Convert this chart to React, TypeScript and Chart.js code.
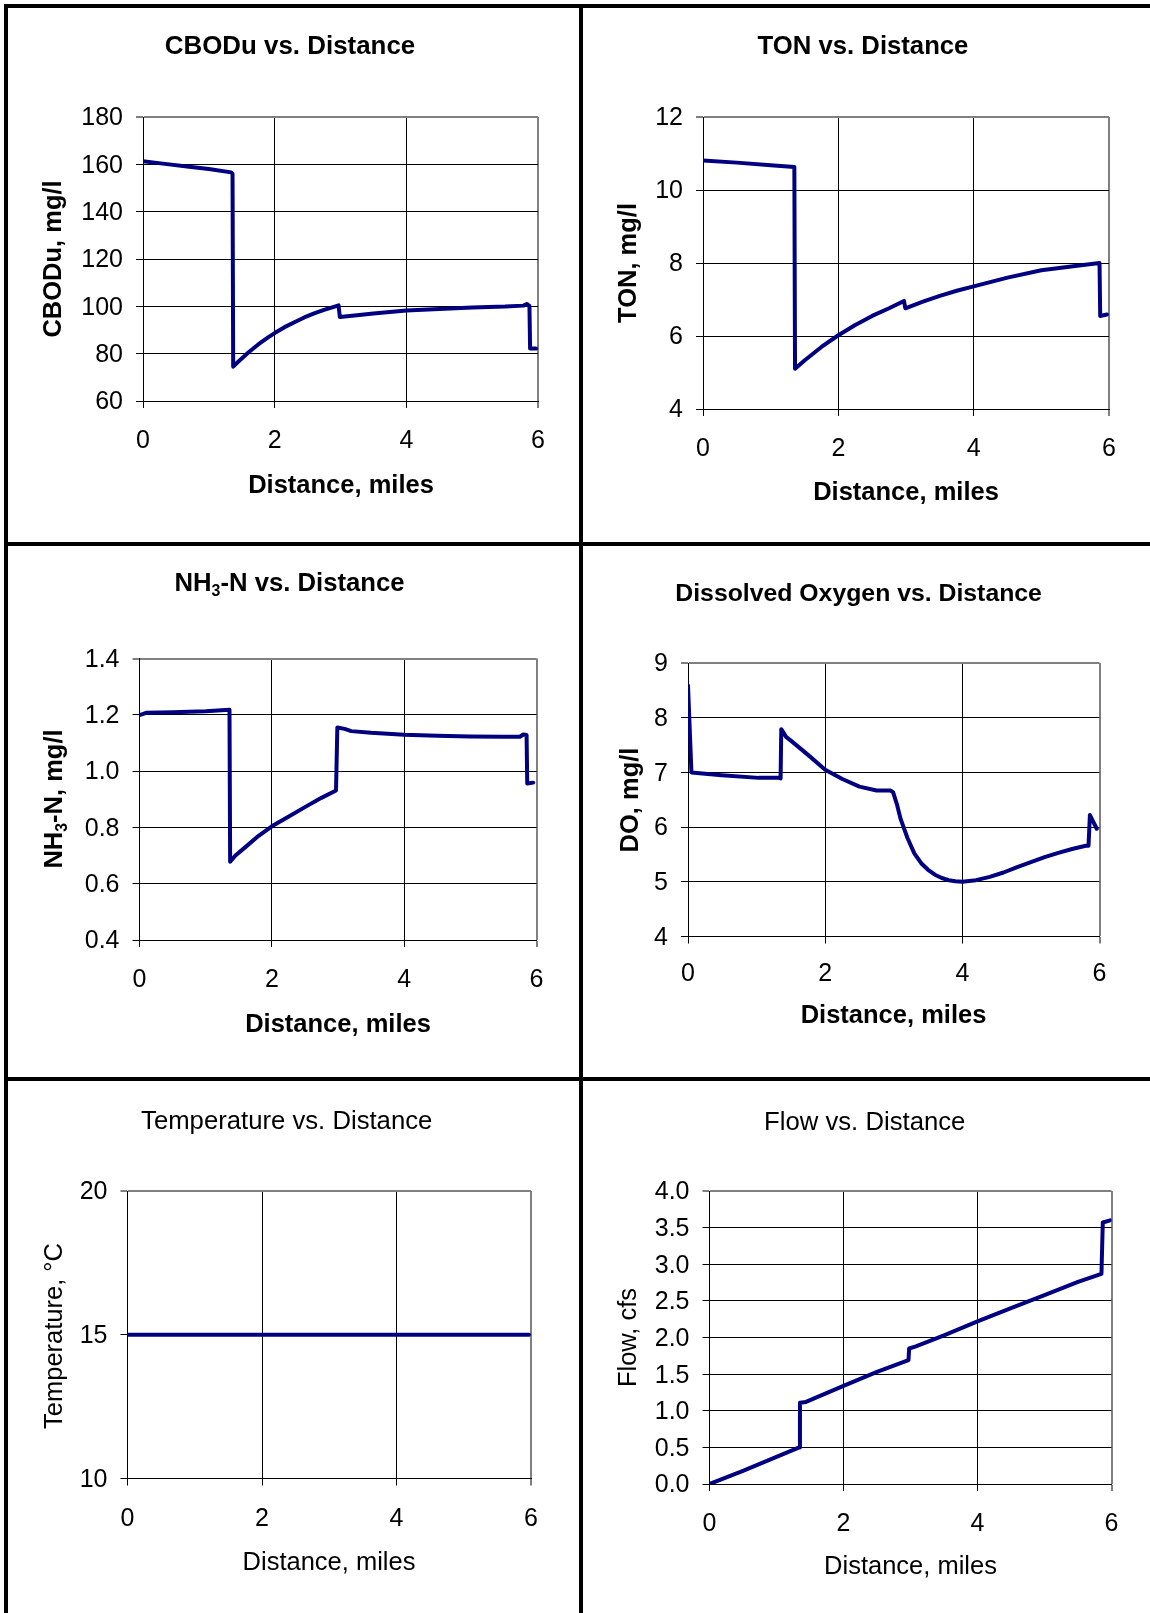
import React, { useEffect, useRef } from "react";
import { Chart, registerables } from "chart.js";

Chart.register(...registerables);

// ---------- data ----------
const xTicks = [0, 2, 4, 6];

const cbodDist = [0, 0.3, 0.7, 1.0, 1.34, 1.36, 1.37, 1.45, 1.6, 1.75, 1.9, 2.0, 2.15, 2.3, 2.45, 2.6, 2.75, 2.9, 2.97, 2.99, 3.25, 3.5, 4.0, 4.5, 5.0, 5.5, 5.78, 5.83, 5.87, 5.88, 5.97];
const cbodVal = [161.3, 160.3, 159.0, 158.0, 156.6, 156.0, 74.5, 76.7, 80.5, 83.9, 86.9, 88.7, 91.2, 93.3, 95.3, 97.0, 98.5, 99.8, 100.4, 95.5, 96.2, 97.0, 98.2, 98.9, 99.5, 99.9, 100.3, 101.0, 100.2, 82.2, 82.2];

const tonDist = [0, 0.5, 1.0, 1.35, 1.36, 1.5, 1.75, 2.0, 2.25, 2.5, 2.75, 2.97, 2.99, 3.25, 3.5, 3.75, 4.0, 4.5, 5.0, 5.5, 5.86, 5.87, 5.97];
const tonVal = [10.81, 10.75, 10.68, 10.63, 5.1, 5.33, 5.7, 6.02, 6.3, 6.55, 6.76, 6.96, 6.76, 6.94, 7.1, 7.24, 7.36, 7.6, 7.8, 7.92, 8.0, 6.55, 6.59];

const nh3Dist = [0, 0.1, 0.5, 1.0, 1.36, 1.37, 1.45, 1.6, 1.8, 2.0, 2.25, 2.5, 2.75, 2.97, 2.99, 3.1, 3.2, 3.5, 4.0, 4.5, 5.0, 5.5, 5.75, 5.8, 5.85, 5.86, 5.95];
const nh3Val = [1.199, 1.207, 1.209, 1.213, 1.218, 0.678, 0.7, 0.73, 0.77, 0.804, 0.838, 0.872, 0.905, 0.931, 1.155, 1.15, 1.142, 1.136, 1.129, 1.126, 1.123, 1.122, 1.122, 1.13, 1.128, 0.956, 0.959];

const doDist = [0, 0.05, 0.49, 1.03, 1.32, 1.35, 1.36, 1.43, 1.5, 1.75, 2.0, 2.25, 2.5, 2.75, 2.95, 2.99, 3.05, 3.1, 3.2, 3.3, 3.4, 3.5, 3.6, 3.7, 3.8, 3.9, 4.0, 4.2, 4.4, 4.6, 4.8, 5.0, 5.2, 5.4, 5.6, 5.8, 5.84, 5.86, 5.96];
const doVal = [8.59, 7.0, 6.95, 6.9, 6.9, 6.89, 7.79, 7.65, 7.58, 7.32, 7.05, 6.88, 6.74, 6.67, 6.67, 6.64, 6.4, 6.15, 5.8, 5.52, 5.34, 5.22, 5.13, 5.07, 5.03, 5.01, 5.0, 5.03, 5.09, 5.17, 5.27, 5.36, 5.45, 5.53, 5.6, 5.66, 5.66, 6.22, 5.97];

const tempDist = [0, 1.36, 2.98, 5.87, 5.97];
const tempVal = [15, 15, 15, 15, 15];

const flowDist = [0, 0.5, 1.0, 1.34, 1.35, 1.44, 2.0, 2.5, 2.97, 2.98, 3.08, 3.5, 4.0, 4.5, 5.0, 5.5, 5.85, 5.87, 5.98];
const flowVal = [0.0, 0.18, 0.37, 0.5, 1.11, 1.12, 1.34, 1.53, 1.69, 1.85, 1.88, 2.03, 2.22, 2.4, 2.58, 2.76, 2.87, 3.57, 3.6];

// ---------- layout ----------
const FAMILY = "'Liberation Sans', Arial, sans-serif";
const LINE = "#000080";
const WY = 80;
const HX = 58;

type Seg = { t: string; sub?: boolean };

type Panel = {
  cell: [number, number, number, number];
  plot: [number, number, number, number];
  dist: number[];
  vals: number[];
  ymin: number;
  ymax: number;
  ystep: number;
  decimals: number;
  bold: boolean;
  title: Seg[];
  titleX: number;
  titleY: number;
  titleSize: number;
  yTitle: Seg[];
  yTitleX: number;
  yTitleY: number;
  xTitle: Seg[];
  xTitleX: number;
  xTitleY: number;
  xPad: number;
};

const XT: Seg[] = [{ t: "Distance, miles" }];

const panels: Panel[] = [
  {
    cell: [8, 8, 571, 534], plot: [143, 117, 538, 401],
    dist: cbodDist, vals: cbodVal, ymin: 60, ymax: 180, ystep: 20, decimals: 0, bold: true,
    title: [{ t: "CBODu vs. Distance" }], titleX: 290, titleY: 54, titleSize: 25.9,
    yTitle: [{ t: "CBODu, mg/l" }], yTitleX: 61, yTitleY: 259,
    xTitle: XT, xTitleX: 341, xTitleY: 492.5, xPad: 18.5,
  },
  {
    cell: [583, 8, 567, 534], plot: [703, 117, 1109, 409],
    dist: tonDist, vals: tonVal, ymin: 4, ymax: 12, ystep: 2, decimals: 0, bold: true,
    title: [{ t: "TON vs. Distance" }], titleX: 863, titleY: 54, titleSize: 25.7,
    yTitle: [{ t: "TON, mg/l" }], yTitleX: 635.5, yTitleY: 263,
    xTitle: XT, xTitleX: 906, xTitleY: 499.5, xPad: 18.5,
  },
  {
    cell: [8, 546, 571, 531], plot: [139.5, 658.5, 536.5, 940],
    dist: nh3Dist, vals: nh3Val, ymin: 0.4, ymax: 1.4, ystep: 0.2, decimals: 1, bold: true,
    title: [{ t: "NH" }, { t: "3", sub: true }, { t: "-N vs. Distance" }], titleX: 289.5, titleY: 591, titleSize: 25.7,
    yTitle: [{ t: "NH" }, { t: "3", sub: true }, { t: "-N, mg/l" }], yTitleX: 62, yTitleY: 799,
    xTitle: XT, xTitleX: 338, xTitleY: 1031.5, xPad: 18.5,
  },
  {
    cell: [583, 546, 567, 531], plot: [688, 663, 1099.5, 936.5],
    dist: doDist, vals: doVal, ymin: 4, ymax: 9, ystep: 1, decimals: 0, bold: true,
    title: [{ t: "Dissolved Oxygen vs. Distance" }], titleX: 858.6, titleY: 601, titleSize: 24.8,
    yTitle: [{ t: "DO, mg/l" }], yTitleX: 638, yTitleY: 800,
    xTitle: XT, xTitleX: 893.5, xTitleY: 1023, xPad: 15.5,
  },
  {
    cell: [8, 1081, 571, 532], plot: [127.5, 1191, 531, 1478.5],
    dist: tempDist, vals: tempVal, ymin: 10, ymax: 20, ystep: 5, decimals: 0, bold: false,
    title: [{ t: "Temperature vs. Distance" }], titleX: 286.7, titleY: 1129, titleSize: 25.7,
    yTitle: [{ t: "Temperature, °C" }], yTitleX: 62, yTitleY: 1336,
    xTitle: XT, xTitleX: 329, xTitleY: 1569.5, xPad: 18.5,
  },
  {
    cell: [583, 1081, 567, 532], plot: [709.5, 1191, 1111.5, 1484],
    dist: flowDist, vals: flowVal, ymin: 0, ymax: 4, ystep: 0.5, decimals: 1, bold: false,
    title: [{ t: "Flow vs. Distance" }], titleX: 864.7, titleY: 1129.6, titleSize: 25.7,
    yTitle: [{ t: "Flow, cfs" }], yTitleX: 635.5, yTitleY: 1337.5,
    xTitle: XT, xTitleX: 910.5, xTitleY: 1573.5, xPad: 18.5,
  },
];

function drawRich(ctx: CanvasRenderingContext2D, segs: Seg[], x: number, y: number, size: number, bold: boolean) {
  const w = bold ? "bold " : "";
  const fMain = `${w}${size}px ${FAMILY}`;
  const fSub = `${w}${(size * 0.62).toFixed(2)}px ${FAMILY}`;
  let total = 0;
  const widths = segs.map((s) => {
    ctx.font = s.sub ? fSub : fMain;
    const m = ctx.measureText(s.t).width;
    total += m;
    return m;
  });
  let cx = x - total / 2;
  ctx.textAlign = "left";
  ctx.textBaseline = "alphabetic";
  segs.forEach((s, i) => {
    ctx.font = s.sub ? fSub : fMain;
    ctx.fillText(s.t, cx, s.sub ? y + size * 0.2 : y);
    cx += widths[i];
  });
}

function PanelChart({ p }: { p: Panel }) {
  const ref = useRef<HTMLCanvasElement | null>(null);
  useEffect(() => {
    if (!ref.current) return;
    const [cx, cy, cw, ch] = p.cell;
    const [pl, pt, pr, pb] = p.plot;
    const near = (a: number, b: number) => Math.abs(a - b) < 1e-9;
    const textPlugin = {
      id: "panelText",
      afterDraw(chart: any) {
        const ctx: CanvasRenderingContext2D = chart.ctx;
        ctx.save();
        ctx.fillStyle = "#000";
        drawRich(ctx, p.title, p.titleX - cx, p.titleY - cy, p.titleSize, p.bold);
        drawRich(ctx, p.xTitle, p.xTitleX - cx, p.xTitleY - cy, 25.5, p.bold);
        ctx.translate(p.yTitleX - cx, p.yTitleY - cy);
        ctx.rotate(-Math.PI / 2);
        drawRich(ctx, p.yTitle, 0, 0, 25.5, p.bold);
        ctx.restore();
      },
    };
    const xFont = { family: FAMILY, size: 25, weight: "normal" as const };
    // two-line label with a tiny line height nudges the y labels down by 1.5px
    const yFont = { family: FAMILY, size: 25, weight: "normal" as const, lineHeight: "3px" };
    const chart = new Chart(ref.current, {
      type: "scatter",
      data: {
        datasets: [
          {
            data: p.dist.map((x, i) => ({ x, y: p.vals[i] })),
            showLine: true,
            borderColor: LINE,
            backgroundColor: LINE,
            borderWidth: 4,
            pointRadius: 0,
            pointHoverRadius: 0,
            fill: false,
            tension: 0,
            borderJoinStyle: "round",
            borderCapStyle: "round",
          } as any,
        ],
      },
      options: {
        animation: false,
        responsive: false,
        devicePixelRatio: 1,
        events: [],
        layout: {
          autoPadding: false,
          padding: {
            left: pl - cx - WY,
            top: pt - cy,
            right: cx + cw - pr,
            bottom: cy + ch - pb - HX,
          },
        },
        plugins: {
          legend: { display: false },
          tooltip: { enabled: false },
          title: { display: false },
        },
        scales: {
          x: {
            type: "linear",
            position: "bottom",
            min: 0,
            max: 6,
            afterBuildTicks: (s: any) => {
              s.ticks = xTicks.map((v) => ({ value: v }));
            },
            ticks: { font: xFont, color: "#000", padding: p.xPad, maxRotation: 0, callback: (v: any) => String(v) },
            grid: {
              color: (c: any) => (c.tick && near(c.tick.value, 6) ? "#808080" : "#000"),
              lineWidth: (c: any) => (c.tick && near(c.tick.value, 6) ? 2 : 1),
              tickLength: 7,
              tickColor: "#000",
              tickWidth: 1,
            },
            border: { display: true, color: "#000", width: 1 },
            afterFit: (s: any) => {
              s.height = HX;
            },
          },
          y: {
            type: "linear",
            position: "left",
            min: p.ymin,
            max: p.ymax,
            ticks: {
              stepSize: p.ystep,
              font: yFont,
              color: "#000",
              padding: 13,
              callback: (v: any) => ["", Number(v).toFixed(p.decimals)],
            },
            grid: {
              color: (c: any) => (c.tick && near(c.tick.value, p.ymax) ? "#808080" : "#000"),
              lineWidth: (c: any) => (c.tick && near(c.tick.value, p.ymax) ? 2 : 1),
              tickLength: 7,
              tickColor: "#000",
              tickWidth: 1,
            },
            border: { display: true, color: "#000", width: 1 },
            afterFit: (s: any) => {
              s.width = WY;
            },
          },
        },
      } as any,
      plugins: [textPlugin as any],
    });
    return () => chart.destroy();
  }, [p]);
  const [cx, cy, cw, ch] = p.cell;
  return (
    <canvas
      ref={ref}
      width={cw}
      height={ch}
      style={{ position: "absolute", left: cx, top: cy, width: cw, height: ch }}
    />
  );
}

const bar = (left: number, top: number, width: number, height: number) => (
  <div style={{ position: "absolute", left, top, width, height, background: "#000" }} />
);

export default function App() {
  return (
    <div style={{ position: "absolute", left: 0, top: 0, width: 1150, height: 1613, background: "#fff", overflow: "hidden" }}>
      {panels.map((p, i) => (
        <PanelChart key={i} p={p} />
      ))}
      {bar(4, 4, 1146, 4)}
      {bar(4, 4, 4, 1609)}
      {bar(579, 4, 4, 1609)}
      {bar(4, 542, 1146, 4)}
      {bar(4, 1077, 1146, 4)}
    </div>
  );
}
